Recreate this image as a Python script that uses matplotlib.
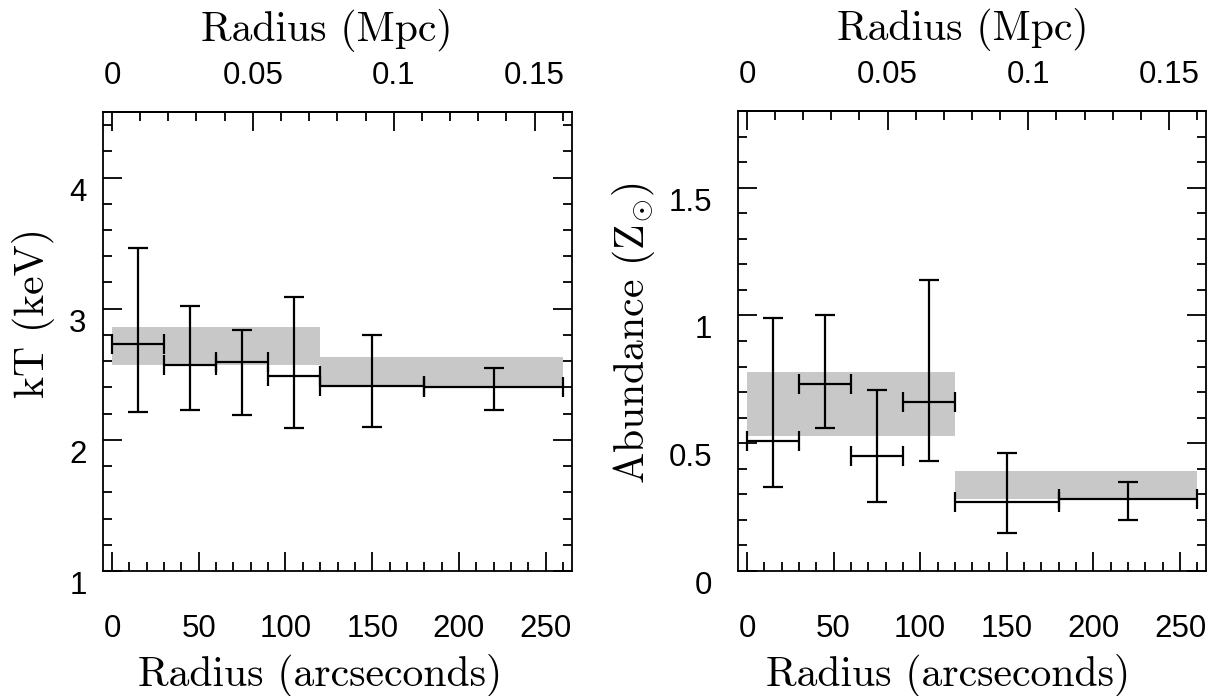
import matplotlib
matplotlib.use("Agg")
import matplotlib.pyplot as plt
from matplotlib.ticker import MultipleLocator, FixedLocator, FormatStrFormatter

plt.rcParams['mathtext.fontset'] = 'cm'
plt.rcParams['axes.linewidth'] = 1.3

# radial bins (arcsec)
r_mid = [15, 45, 75, 105, 150, 220]
r_lo = [0, 30, 60, 90, 120, 180]
r_hi = [30, 60, 90, 120, 180, 260]

# temperature (keV)
kt = [2.73, 2.57, 2.59, 2.49, 2.41, 2.40]
kt_lo = [2.21, 2.23, 2.19, 2.09, 2.10, 2.23]
kt_hi = [3.46, 3.02, 2.84, 3.09, 2.80, 2.55]

# abundance (solar)
ab = [0.51, 0.73, 0.45, 0.66, 0.27, 0.28]
ab_lo = [0.33, 0.56, 0.27, 0.43, 0.15, 0.20]
ab_hi = [0.99, 1.00, 0.71, 1.14, 0.46, 0.35]

# shaded bands (two wide bins)
band_r0 = [0, 120]
band_r1 = [120, 260]
kt_band_lo = [2.57, 2.41]
kt_band_hi = [2.86, 2.63]
ab_band_lo = [0.53, 0.28]
ab_band_hi = [0.78, 0.39]

# top axis
mpc_ticks = [0, 0.05, 0.1, 0.15]
mpc_minor = [i / 100 for i in range(17)]
MPC_PER_ARCSEC = 0.05 / 81.2

TICK_FAMILY = 'Liberation Sans'
TICK_SIZE = 22.5
label_font = dict(family='cmr10', size=30)

fig = plt.figure(figsize=(12.08, 6.96), dpi=100)
W, H = 1208, 696


def make_axes(l, r, t, b):
    return fig.add_axes([l / W, 1 - b / H, (r - l) / W, (b - t) / H])


def style(ax, ylim, ymaj, ymin, ypad, ylab, ylab_xy, xlab_x, toplab_x):
    ax.set_xlim(-5, 265)
    ax.set_ylim(*ylim)
    ax.xaxis.set_major_locator(MultipleLocator(50))
    ax.xaxis.set_minor_locator(MultipleLocator(10))
    ax.yaxis.set_major_locator(MultipleLocator(ymaj))
    ax.yaxis.set_minor_locator(MultipleLocator(ymin))
    ax.yaxis.set_major_formatter(FormatStrFormatter('%g'))
    ax.tick_params(which='both', direction='in', top=False, right=True, width=1.3,
                   labelsize=TICK_SIZE, labelfontfamily=TICK_FAMILY)
    ax.tick_params(which='major', length=13.7)
    ax.tick_params(which='minor', length=6.7)
    ax.tick_params(axis='x', which='major', pad=31)
    ax.tick_params(axis='y', which='major', pad=ypad)
    plt.setp(ax.get_yticklabels(), va='top')

    ax.set_xlabel('Radius (arcseconds)', va='center', **label_font)
    ax.xaxis.set_label_coords(xlab_x, -0.227)
    ax.set_ylabel(ylab, va='center', **label_font)
    ax.yaxis.set_label_coords(*ylab_xy)

    sec = ax.secondary_xaxis('top', functions=(lambda a: a * MPC_PER_ARCSEC,
                                               lambda m: m / MPC_PER_ARCSEC))
    sec.xaxis.set_major_locator(FixedLocator(mpc_ticks))
    sec.xaxis.set_minor_locator(FixedLocator(mpc_minor))
    sec.xaxis.set_major_formatter(FormatStrFormatter('%g'))
    sec.tick_params(which='both', direction='in', width=1.3,
                    labelsize=TICK_SIZE, labelfontfamily=TICK_FAMILY)
    sec.tick_params(which='major', length=13.7, pad=15)
    sec.tick_params(which='minor', length=6.7)
    ax.text(toplab_x, 1.178, 'Radius (Mpc)', transform=ax.transAxes,
            ha='center', va='center', **label_font)


def draw(ax, y, ylo, yhi, blo, bhi):
    for x0, x1, lo, hi in zip(band_r0, band_r1, blo, bhi):
        ax.fill_between([x0, x1], lo, hi, color='#c8c8c8', lw=0, zorder=1)
    xerr = [[m - a for m, a in zip(r_mid, r_lo)], [b - m for m, b in zip(r_mid, r_hi)]]
    yerr = [[v - a for v, a in zip(y, ylo)], [b - v for v, b in zip(y, yhi)]]
    ax.errorbar(r_mid, y, xerr=xerr, yerr=yerr, fmt='none', ecolor='k',
                elinewidth=1.6, capsize=7.5, capthick=1.6, zorder=3)


ax1 = make_axes(103.3, 571.7, 112, 571)
draw(ax1, kt, kt_lo, kt_hi, kt_band_lo, kt_band_hi)
style(ax1, (1, 4.5), 1, 0.2, 12, 'kT (keV)', (-0.149, 0.562), 0.463, 0.478)

ax2 = make_axes(738.3, 1206, 111, 571)
draw(ax2, ab, ab_lo, ab_hi, ab_band_lo, ab_band_hi)
style(ax2, (0, 1.8), 0.5, 0.1, 19, r'Abundance (Z$_{\odot}$)', (-0.224, 0.517), 0.449, 0.48)

fig.savefig('out.png', dpi=100)
